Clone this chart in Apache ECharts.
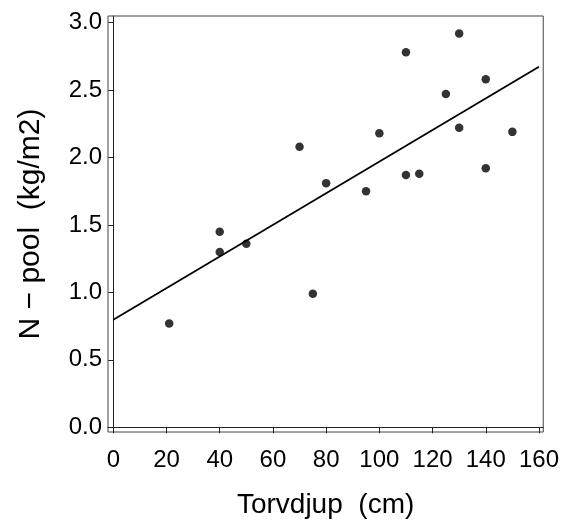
<!DOCTYPE html>
<html>
<head>
<meta charset="utf-8">
<script src="https://cdn.jsdelivr.net/npm/echarts@6/dist/echarts.min.js"></script>
<style>
  html, body { margin: 0; padding: 0; background: #fff; }
  #chart { width: 562px; height: 524px; }
</style>
</head>
<body>
<div id="chart"></div>
<script>
// Torvdjup (cm) och N-pool (kg/m2)
var depth = [21, 40, 40, 50, 70, 75, 80, 95, 100, 110, 110, 115, 125, 130, 130, 140, 140, 150];
var npool = [0.77, 1.30, 1.45, 1.36, 2.08, 0.99, 1.81, 1.75, 2.18, 2.78, 1.87, 1.88, 2.47, 2.92, 2.22, 2.58, 1.92, 2.19];
var xTicks = [0, 20, 40, 60, 80, 100, 120, 140, 160];
var yTicks = [0, 0.5, 1, 1.5, 2, 2.5, 3];

var points = depth.map(function (d, i) {
  return [d, npool[i]];
});

// minsta kvadrat-anpassning
var n = depth.length;
var mx = depth.reduce(function (a, b) { return a + b; }, 0) / n;
var my = npool.reduce(function (a, b) { return a + b; }, 0) / n;
var sxy = 0, sxx = 0;
for (var i = 0; i < n; i++) {
  sxy += (depth[i] - mx) * (npool[i] - my);
  sxx += (depth[i] - mx) * (depth[i] - mx);
}
var slope = sxy / sxx;
var icpt = my - slope * mx;
var xFrom = xTicks[0], xTo = xTicks[xTicks.length - 1];
var fitLine = [[xFrom, icpt + slope * xFrom], [xTo, icpt + slope * xTo]];

var font = "'Liberation Sans', Arial, sans-serif";
var chart = echarts.init(document.getElementById("chart"));

var option = {
  animation: false,
  grid: {
    left: 108,
    right: 17,
    top: 16,
    bottom: 92,
    show: true,
    borderColor: "#444",
    borderWidth: 1
  },
  xAxis: {
    type: "value",
    min: -2,
    max: 161.6,
    name: "Torvdjup  (cm)",
    nameLocation: "middle",
    nameGap: 59,
    nameTextStyle: { fontFamily: font, fontSize: 28, color: "#000" },
    splitLine: { show: false },
    axisLine: { show: true, lineStyle: { color: "#222", width: 1 } },
    axisTick: { show: true, length: 6, customValues: xTicks, lineStyle: { color: "#222" } },
    axisLabel: {
      customValues: xTicks,
      margin: 16,
      fontFamily: font,
      fontSize: 24,
      color: "#000"
    }
  },
  yAxis: {
    type: "value",
    min: -0.035,
    max: 3.049,
    name: "N \u2212 pool  (kg/m2)",
    nameLocation: "middle",
    nameGap: 62,
    nameTextStyle: { fontFamily: font, fontSize: 30, color: "#000" },
    splitLine: { show: false },
    axisLine: { show: true, lineStyle: { color: "#222", width: 1 } },
    axisTick: { show: true, length: 5, customValues: yTicks, lineStyle: { color: "#222" } },
    axisLabel: {
      customValues: yTicks,
      margin: 6,
      fontFamily: font,
      fontSize: 24,
      color: "#000",
      formatter: function (v) { return v.toFixed(1); }
    }
  },
  series: [
    {
      type: "line",
      data: fitLine,
      symbol: "none",
      lineStyle: { color: "#000", width: 1.8 },
      z: 2
    },
    {
      type: "scatter",
      data: points,
      symbolSize: 8.5,
      itemStyle: { color: "#000" },
      z: 3
    }
  ]
};

chart.setOption(option);
</script>
</body>
</html>
